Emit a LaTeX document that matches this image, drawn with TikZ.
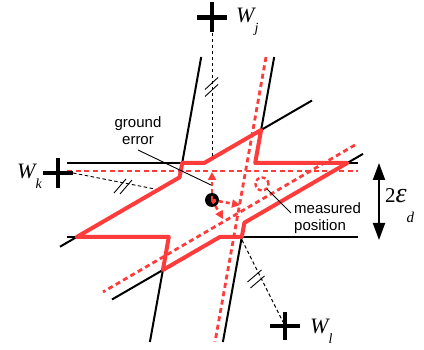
\documentclass[tikz,border=0pt]{standalone}
\usepackage{fontspec}
\setmainfont{Liberation Sans}
\newfontfamily\tnr{Liberation Serif}
\usetikzlibrary{arrows.meta}
\definecolor{myred}{RGB}{255,60,60}
\begin{document}
\begin{tikzpicture}[x=1pt,y=-1pt,
  blackline/.style={line width=2pt,black},
  redband/.style={line width=4pt,myred,line join=round},
  reddash/.style={line width=2.8pt,myred,dash pattern=on 5pt off 3.5pt},
  thindash/.style={line width=0.9pt,dash pattern=on 3.5pt off 2.5pt},
  slashmark/.style={line width=0.9pt},
  plusarm/.style={line width=4.5pt},
  leader/.style={line width=0.9pt},
  redarrow/.style={line width=2.6pt,myred,dash pattern=on 4pt off 3pt,-{Triangle[length=8pt,width=8pt]}},
  sanslabel/.style={inner sep=0pt,font=\fontsize{15}{17}\selectfont},
  wlabel/.style={inner sep=0pt,anchor=base west,font=\tnr\fontsize{22}{22}\selectfont\itshape}
]
\useasboundingbox (0,0) rectangle (424,350);
% band corner points
\coordinate (A) at (182.2,163);
\coordinate (B) at (204.2,163);
\coordinate (C) at (261.1,130);
\coordinate (D) at (255.2,163);
\coordinate (E) at (347.3,163);
\coordinate (F) at (244.4,222.7);
\coordinate (G) at (241.8,237);
\coordinate (H) at (219.8,237);
\coordinate (I) at (162.9,270);
\coordinate (J) at (168.8,237);
\coordinate (K) at (76.7,237);
\coordinate (M) at (179.6,177.3);
% line ends
\coordinate (L1t) at (201.2,57);
\coordinate (L1b) at (149.9,342);
\coordinate (L2t) at (274.2,57);
\coordinate (L2b) at (222.9,342);
\coordinate (H1l) at (67,163);
\coordinate (H1r) at (358,163);
\coordinate (H2l) at (67,237);
\coordinate (H2r) at (358,237);
\coordinate (S1t) at (312,100.5);
\coordinate (S1b) at (60,246.7);
\coordinate (S2t) at (363,153.9);
\coordinate (S2b) at (112,299.5);
% black true lines
\draw[blackline] (L1t) -- (A);
\draw[blackline] (I) -- (L1b);
\draw[blackline] (L2t) -- (C);
\draw[blackline] (G) -- (L2b);
\draw[blackline] (H1l) -- (A);
\draw[blackline] (E) -- (H1r);
\draw[blackline] (H2l) -- (K);
\draw[blackline] (G) -- (H2r);
\draw[blackline] (C) -- (S1t);
\draw[blackline] (K) -- (S1b);
\draw[blackline] (E) -- (S2t);
\draw[blackline] (I) -- (S2b);
% red measured lines
\coordinate (H3l) at (67,171);
\coordinate (H3r) at (358,171);
\coordinate (V3t) at (266,57);
\coordinate (V3b) at (215,342);
\coordinate (S3t) at (355,145);
\coordinate (S3b) at (103,292);
\draw[reddash] (H3l) -- (H3r);
\draw[reddash] (V3t) -- (V3b);
\draw[reddash] (S3t) -- (S3b);
% red error region
\draw[redband] (A) -- (B) -- (C) -- (D) -- (E) -- (F) -- (G) -- (H) -- (I) -- (J) -- (K) -- (M) -- cycle;
% beacons
\coordinate (Wj) at (212,17.5);
\coordinate (Wk) at (58,173);
\coordinate (Wl) at (285,326);
\draw[plusarm] ([xshift=-15pt]Wj) -- ([xshift=15pt]Wj);
\draw[plusarm] ([yshift=-15pt]Wj) -- ([yshift=15pt]Wj);
\draw[plusarm] ([xshift=-15pt]Wk) -- ([xshift=15pt]Wk);
\draw[plusarm] ([yshift=-15pt]Wk) -- ([yshift=15pt]Wk);
\draw[plusarm] ([xshift=-15pt]Wl) -- ([xshift=15pt]Wl);
\draw[plusarm] ([yshift=-14pt]Wl) -- ([yshift=14pt]Wl);
\node[wlabel] (wjl) at (236,23) {W\raisebox{-10pt}{\fontsize{14}{14}\selectfont j}};
\node[wlabel] (wkl) at (17,179) {W\raisebox{-10pt}{\fontsize{14}{14}\selectfont k}};
\node[wlabel] (wll) at (310,334) {W\raisebox{-10pt}{\fontsize{14}{14}\selectfont l}};
% dashed distance lines
\coordinate (dj1) at (212,33);
\coordinate (dj2) at (212,158);
\coordinate (dk1) at (73,173);
\coordinate (dk2) at (155,189);
\coordinate (dl1) at (242,240);
\coordinate (dl2) at (283,322);
\draw[thindash] (dj1) -- (dj2);
\draw[thindash] (dk1) -- (dk2);
\draw[thindash] (dl1) -- (dl2);
% break marks
\draw[slashmark] (205,89.5) -- (218,77.5);
\draw[slashmark] (205,96.5) -- (218,84.5);
\draw[slashmark] (114,193) -- (126,179);
\draw[slashmark] (120,194) -- (132,180);
\draw[slashmark] (247.5,282) -- (261.5,270);
\draw[slashmark] (250.5,288) -- (264.5,276);
% ground truth dot and error arrows
\coordinate (P) at (212,200);
\fill[black] (P) circle (7pt);
\coordinate (au) at (212,172);
\coordinate (ar) at (240,205);
\coordinate (ad) at (223,219);
\draw[redarrow] (P) -- (au);
\draw[redarrow] (P) -- (ar);
\draw[redarrow] (P) -- (ad);
% measured position
\coordinate (mp) at (262,184);
\draw[myred,line width=2.4pt,dash pattern=on 4pt off 2.5pt] (mp) circle (6.5pt);
\node[sanslabel,anchor=north west,align=left] (mpl) at (294,202) {measured\\position};
\draw[leader] (267,189) -- (291,213);
% ground error
\node[sanslabel,anchor=north,align=center] (gel) at (138,116) {ground\\error};
\draw[leader] (138,150) -- (211,185);
% band width arrow
\coordinate (bw1) at (379,163);
\coordinate (bw2) at (379,240);
\draw[line width=2pt,{Triangle[length=17pt,width=12pt]}-{Triangle[length=17pt,width=12pt]}] (bw1) -- (bw2);
\node[inner sep=0pt,anchor=base west,font=\tnr\fontsize{21}{21}\selectfont] (eps) at (385,203) {2{\itshape\fontsize{28}{28}\selectfont ε}\raisebox{-20pt}{\itshape\fontsize{15}{15}\selectfont d}};
\end{tikzpicture}
\end{document}
